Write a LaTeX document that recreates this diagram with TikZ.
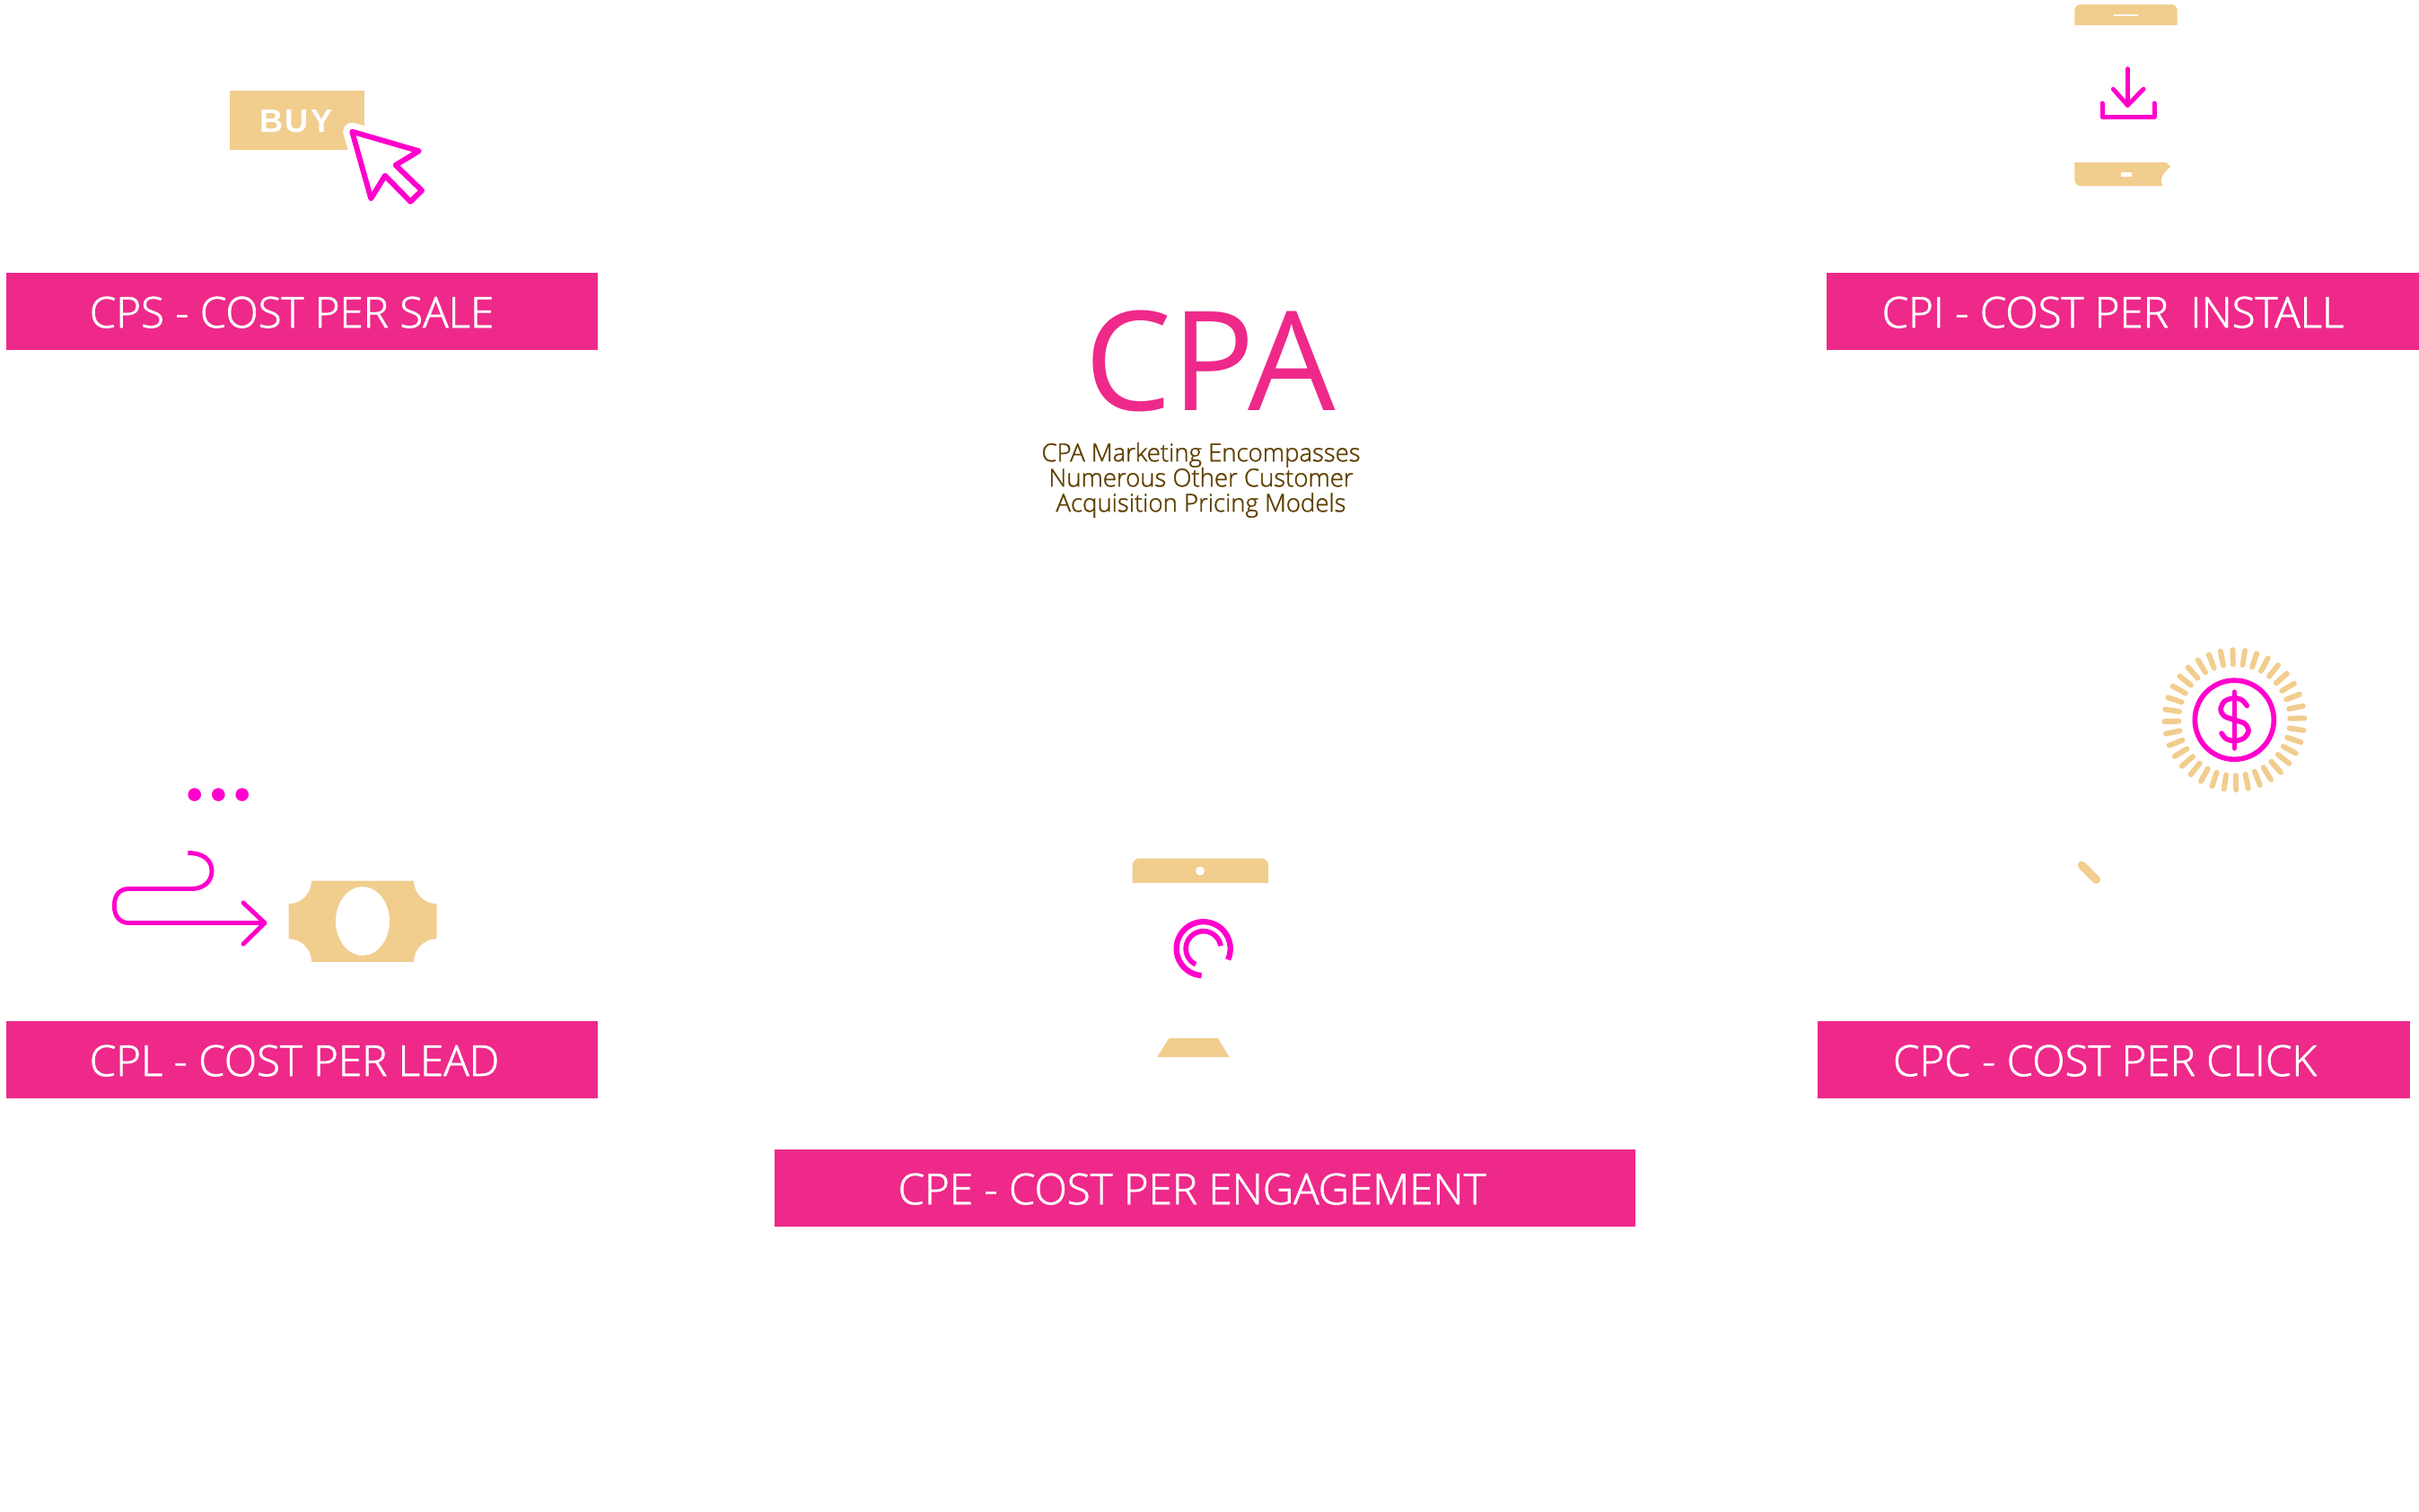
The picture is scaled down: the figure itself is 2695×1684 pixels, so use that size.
\documentclass[tikz,border=0pt]{standalone}
\usepackage{fontspec}
\setmainfont[FakeBold=1.5]{Open Sans Light}
\newfontfamily\titlefont{Open Sans}
\newfontfamily\buyfont[LetterSpace=6]{Liberation Sans}
\definecolor{barpink}{HTML}{EE298A}
\definecolor{iconpink}{HTML}{FF00CC}
\definecolor{icontan}{HTML}{F1CD8E}
\definecolor{subbrown}{HTML}{5F4000}
\tikzset{
	pinkbar/.style={fill=barpink,minimum height=24.33pt,inner sep=0pt},
	barlabel/.style={text=white,inner sep=0pt,anchor=base,font=\fontsize{13.5}{16}\selectfont},
	thinicon/.style={draw=iconpink,line width=1.4pt,line cap=round,line join=round},
	ray/.style={draw=icontan,line width=1.7pt,line cap=round}
}
\begin{document}
\begin{tikzpicture}[x=0.01cm,y=-0.01cm]
	\useasboundingbox (0,0) rectangle (2695,1684);

	% bars
	\node[pinkbar,minimum width=187.4pt] (cpsbar) at (336.4,347.2) {};
	\node[pinkbar,minimum width=187.8pt] (cpibar) at (2365,347.2) {};
	\node[pinkbar,minimum width=187.4pt] (cplbar) at (336.4,1181.2) {};
	\node[pinkbar,minimum width=187.6pt] (cpcbar) at (2355.3,1181.2) {};
	\node[pinkbar,minimum width=272.8pt] (cpebar) at (1342.5,1324.2) {};

	\node[barlabel] (cpstext) at (325,365) {CPS - COST PER SALE};
	\node[barlabel] (cpitext) at (2354,365) {CPI - COST PER\ \ INSTALL};
	\node[barlabel] (cpltext) at (328,1199) {CPL - COST PER LEAD};
	\node[barlabel] (cpctext) at (2345,1199) {CPC - COST PER CLICK};
	\node[barlabel] (cpetext) at (1328,1342) {CPE - COST PER ENGAGEMENT};

	% middle text
	\node[text=barpink,inner sep=0pt,font=\titlefont\fontsize{43.8}{50}\selectfont] (cpatitle) at (1348,402.5) {CPA};
	\node[text=subbrown,inner sep=0pt,align=center,font=\fontsize{7.83}{7.97}\selectfont] (cpasub) at (1338,535) {CPA Marketing Encompasses\\Numerous Other Customer\\Acquisition Pricing Models};

	% buy button
	\fill[icontan] (256,100.7) rectangle (405.7,166.7);
	\node[text=white,inner sep=0pt,font=\buyfont\bfseries\fontsize{10.3}{12}\selectfont] (buytext) at (330,135) {BUY};
	\draw[white,fill=white,line width=5.7pt,line join=round] (392.3,146.7) -- (466.7,168.3) -- (440.7,184) -- (470,212.3) -- (457.3,224.7) -- (429,195.7) -- (413.3,221.3) -- cycle;
	\draw[thinicon,line width=1.7pt] (392.3,146.7) -- (466.7,168.3) -- (440.7,184) -- (470,212.3) -- (457.3,224.7) -- (429,195.7) -- (413.3,221.3) -- cycle;

	% install phone
	\fill[icontan] (2311.3,28) [rounded corners=1.9pt] -- (2311.3,5) -- (2425.7,5) [sharp corners] -- (2425.7,28) -- cycle;
	\fill[white] (2355.3,15.7) rectangle (2381.7,18.3);
	\draw[thinicon] (2370.3,76.7) -- (2370.3,117.3);
	\draw[thinicon] (2354.3,99.3) -- (2370.3,117.3) -- (2388,99.3);
	\draw[thinicon] (2342,115) -- (2342,130.7) -- (2400,130.7) -- (2400,115);
	\fill[icontan] (2311.3,181) -- (2413.3,181) -- (2418,185.7) .. controls (2411,192) and (2405,198) .. (2409.3,207.3) [rounded corners=1.9pt] -- (2311.3,207.3) [sharp corners] -- cycle;
	\fill[white] (2362.7,191.7) rectangle (2374.7,196.7);

	% lead
	\foreach \x in {216.7,243.3,269.7}
		\fill[iconpink] (\x,885.5) circle (7.3);
	\draw[thinicon,line cap=butt] (209.3,950.5) .. controls (226,950.5) and (236,958) .. (236,970.5) .. controls (236,983) and (226,990.5) .. (213.3,990.5) -- (143.3,990.5) .. controls (133,990.5) and (127.3,998) .. (127.3,1009.5) .. controls (127.3,1020) and (133,1028.5) .. (143.3,1028.5) -- (295,1028.5);
	\draw[thinicon] (271,1006) -- (295,1028.5) -- (271,1052);
	\fill[icontan] (347,981.5) -- (461,981.5) .. controls (461,995.7) and (472.5,1007.2) .. (486.7,1007.2) -- (486.7,1046.2) .. controls (472.5,1046.2) and (461,1057.5) .. (461,1071.8) -- (347,1071.8) .. controls (347,1057.5) and (335.9,1046.2) .. (321.7,1046.2) -- (321.7,1007.2) .. controls (335.9,1007.2) and (347,995.7) .. (347,981.5) -- cycle;
	\fill[white] (404,1026.5) ellipse (30 and 38.3);

	% engagement phone
	\fill[icontan] (1261.7,983.8) [rounded corners=2.2pt] -- (1261.7,956.5) -- (1413,956.5) [sharp corners] -- (1413,983.8) -- cycle;
	\fill[white] (1337,970.5) circle (5);
	\draw[draw=iconpink,line width=1.8pt,domain=-24:266,samples=60,variable=\x] plot ({1340.7+30*cos(\x)},{1057.2-30*sin(\x)});
	\draw[draw=iconpink,line width=1.6pt,domain=9:244,samples=50,variable=\x] plot ({1340.7+19.5*cos(\x)},{1057.2-19.5*sin(\x)});
	\fill[icontan] (1302.3,1157.2) -- (1357,1157.2) -- (1369.7,1178.2) -- (1289,1178.2) -- cycle;

	% click coin
	\foreach \a in {0,...,35}
		\draw[ray] ({2489.3+62*cos(10*\a+1.4)},{802.2-62*sin(10*\a+1.4)}) -- ({2489.3+78*cos(10*\a+1.4)},{802.2-78*sin(10*\a+1.4)});
	\draw[thinicon,line width=1.6pt] (2489.3,802.2) circle (44);
	\draw[thinicon,line width=1.6pt] (2489.3,771.2) -- (2489.3,833.8);
	\draw[thinicon,line width=1.6pt] plot[smooth] coordinates {(2503.3,786.5) (2498.3,780.5) (2489.3,777.8) (2478.3,781.5) (2474,790.5) (2478.3,798.2) (2489.3,802.2) (2501,806.5) (2505,814.5) (2500,822.5) (2489.3,825.8) (2480,823.2) (2475,817.2)};
	\draw[icontan,line width=2.6pt,line cap=round] (2319.3,964.2) -- (2335.3,980.2);
\end{tikzpicture}
\end{document}
